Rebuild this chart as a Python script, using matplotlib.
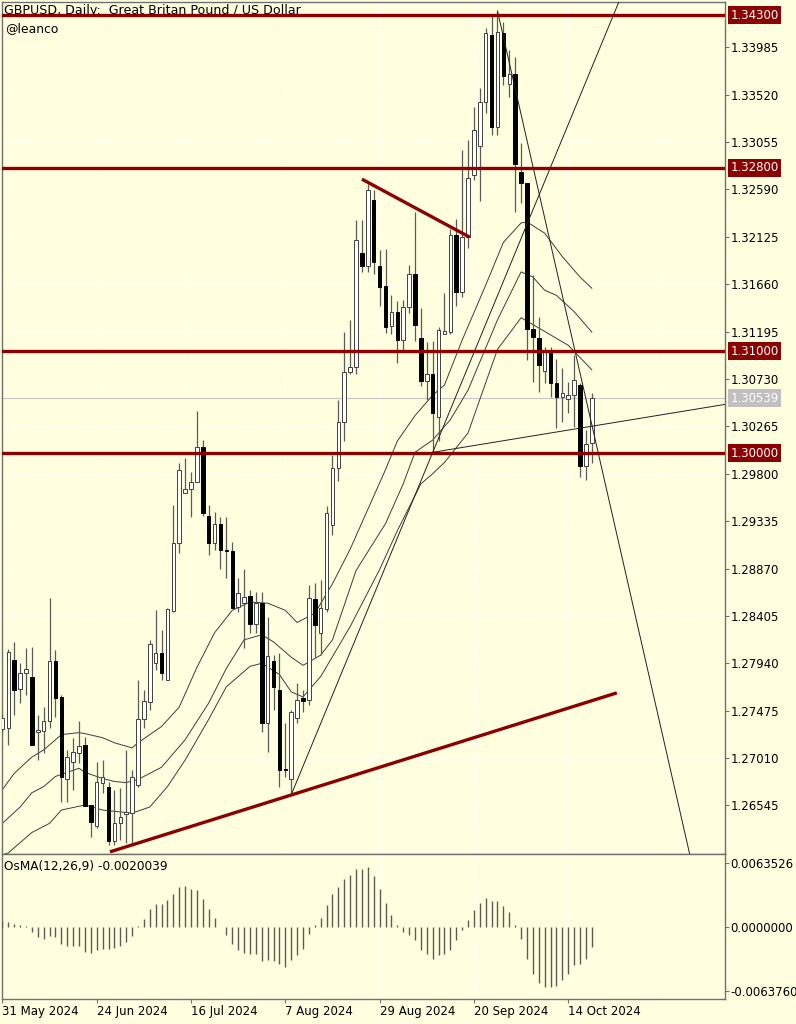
import matplotlib

matplotlib.use("Agg")
import matplotlib.pyplot as plt
import matplotlib.transforms as mtransforms

plt.rcParams["font.family"] = ["DejaVu Sans"]

BG = "#ffffe0"
RED = "#8b0000"
FRAME = "#707070"
WICK = "#5a5a5a"

# daily bars, index 0 = 31 May 2024 ... 100 = 18 Oct 2024
opens = [1.2730, 1.2731, 1.2797, 1.2769, 1.2784, 1.2781, 1.2727, 1.2728, 1.2737, 1.2796,
         1.2761, 1.2680, 1.2697, 1.2706, 1.2714, 1.2655, 1.2634, 1.2677, 1.2673, 1.2620,
         1.2637, 1.2646, 1.2647, 1.2675, 1.2739, 1.2756, 1.2794, 1.2804, 1.2778, 1.2845,
         1.2912, 1.2961, 1.2965, 1.2972, 1.3006, 1.2939, 1.2912, 1.2931, 1.2905, 1.2904,
         1.2849, 1.2853, 1.2860, 1.2833, 1.2853, 1.2735, 1.2796, 1.2768, 1.2690, 1.2680,
         1.2740, 1.2760, 1.2758, 1.2857, 1.2824, 1.2847, 1.2930, 1.2986, 1.3031, 1.3080,
         1.3085, 1.3197, 1.3184, 1.3249, 1.3184, 1.3164, 1.3125, 1.3139, 1.3111, 1.3144,
         1.3176, 1.3113, 1.3071, 1.3078, 1.3036, 1.3117, 1.3119, 1.3214, 1.3158, 1.3212,
         1.3273, 1.3302, 1.3345, 1.3410, 1.3320, 1.3412, 1.3362, 1.3372, 1.3276, 1.3265,
         1.3122, 1.3113, 1.3081, 1.3099, 1.3069, 1.3055, 1.3053, 1.3057, 1.3067, 1.2988,
         1.3010]
highs = [1.2744, 1.2808, 1.2815, 1.2794, 1.2809, 1.2810, 1.2743, 1.2751, 1.2858, 1.2807,
         1.2763, 1.2709, 1.2721, 1.2737, 1.2722, 1.2655, 1.2697, 1.2699, 1.2678, 1.2670,
         1.2672, 1.2709, 1.2689, 1.2778, 1.2768, 1.2817, 1.2846, 1.2827, 1.2848, 1.2949,
         1.2991, 1.2995, 1.2982, 1.3042, 1.3013, 1.2949, 1.2942, 1.2938, 1.2938, 1.2913,
         1.2878, 1.2887, 1.2866, 1.2864, 1.2864, 1.2839, 1.2802, 1.2804, 1.2735, 1.2748,
         1.2775, 1.2768, 1.2871, 1.2873, 1.2876, 1.2948, 1.2998, 1.3052, 1.3119, 1.3131,
         1.3229, 1.3229, 1.3264, 1.3258, 1.3199, 1.3200, 1.3155, 1.3149, 1.3150, 1.3185,
         1.3237, 1.3143, 1.3109, 1.3110, 1.3124, 1.3157, 1.3220, 1.3230, 1.3298, 1.3307,
         1.3340, 1.3358, 1.3417, 1.3430, 1.3434, 1.3423, 1.3396, 1.3389, 1.3304, 1.3265,
         1.3175, 1.3134, 1.3104, 1.3104, 1.3093, 1.3084, 1.3070, 1.3096, 1.3069, 1.3023,
         1.3059]
lows = [1.2726, 1.2714, 1.2743, 1.2755, 1.2763, 1.2714, 1.2699, 1.2706, 1.2731, 1.2741,
        1.2658, 1.2658, 1.2670, 1.2696, 1.2654, 1.2624, 1.2632, 1.2667, 1.2616, 1.2616,
        1.2621, 1.2618, 1.2618, 1.2673, 1.2731, 1.2748, 1.2787, 1.2778, 1.2778, 1.2844,
        1.2902, 1.2961, 1.2938, 1.2972, 1.2939, 1.2900, 1.2905, 1.2887, 1.2878, 1.2848,
        1.2844, 1.2809, 1.2824, 1.2824, 1.2727, 1.2707, 1.2748, 1.2673, 1.2682, 1.2665,
        1.2735, 1.2746, 1.2753, 1.2800, 1.2802, 1.2844, 1.2920, 1.2973, 1.3012, 1.3078,
        1.3078, 1.3178, 1.3178, 1.3176, 1.3145, 1.3118, 1.3117, 1.3089, 1.3101, 1.3138,
        1.3110, 1.3066, 1.3052, 1.3001, 1.3012, 1.3117, 1.3117, 1.3145, 1.3153, 1.3201,
        1.3268, 1.3248, 1.3334, 1.3312, 1.3312, 1.3361, 1.3350, 1.3237, 1.3246, 1.3092,
        1.3070, 1.3060, 1.3069, 1.3055, 1.3025, 1.3031, 1.3040, 1.3026, 1.2977, 1.2974,
        1.2991]
closes = [1.2740, 1.2805, 1.2768, 1.2784, 1.2788, 1.2714, 1.2729, 1.2737, 1.2796, 1.2760,
          1.2682, 1.2702, 1.2707, 1.2713, 1.2654, 1.2638, 1.2678, 1.2682, 1.2620, 1.2637,
          1.2643, 1.2648, 1.2682, 1.2739, 1.2757, 1.2813, 1.2804, 1.2784, 1.2847, 1.2912,
          1.2984, 1.2965, 1.2972, 1.3006, 1.2941, 1.2912, 1.2931, 1.2905, 1.2904, 1.2848,
          1.2863, 1.2859, 1.2833, 1.2853, 1.2735, 1.2801, 1.2771, 1.2689, 1.2689, 1.2746,
          1.2758, 1.2757, 1.2858, 1.2832, 1.2848, 1.2941, 1.2986, 1.3031, 1.3080, 1.3085,
          1.3209, 1.3184, 1.3258, 1.3188, 1.3163, 1.3124, 1.3139, 1.3111, 1.3144, 1.3176,
          1.3126, 1.3071, 1.3078, 1.3040, 1.3121, 1.3120, 1.3214, 1.3158, 1.3212, 1.3270,
          1.3317, 1.3345, 1.3412, 1.3320, 1.3413, 1.3370, 1.3372, 1.3284, 1.3265, 1.3122,
          1.3114, 1.3087, 1.3099, 1.3069, 1.3055, 1.3059, 1.3057, 1.3072, 1.2988, 1.3009,
          1.30539]

osma = [0.0006, 0.0005, 0.0003, 0.0002, 0.0001, -0.0005, -0.0010, -0.0012, -0.0009, -0.0010,
        -0.0017, -0.0019, -0.0019, -0.0019, -0.0025, -0.0026, -0.0023, -0.0022, -0.0022, -0.0021,
        -0.0019, -0.0015, -0.0009, 0.0001, 0.0008, 0.0018, 0.0023, 0.0023, 0.0027, 0.0033,
        0.0040, 0.0041, 0.0038, 0.0037, 0.0028, 0.0018, 0.0009, 0.0000, -0.0008, -0.0017,
        -0.0023, -0.0026, -0.0027, -0.0027, -0.0034, -0.0033, -0.0034, -0.0037, -0.0040, -0.0033,
        -0.0028, -0.0022, -0.0007, 0.0002, 0.0009, 0.0022, 0.0033, 0.0040, 0.0048, 0.0052,
        0.0058, 0.0058, 0.0060, 0.0051, 0.0038, 0.0024, 0.0012, 0.0002, -0.0005, -0.0008,
        -0.0013, -0.0023, -0.0027, -0.0032, -0.0028, -0.0027, -0.0023, -0.0013, -0.0003, 0.0007,
        0.0017, 0.0024, 0.0029, 0.0026, 0.0026, 0.0021, 0.0015, 0.0002, -0.0012, -0.0032,
        -0.0047, -0.0056, -0.0060, -0.0060, -0.0059, -0.0053, -0.0047, -0.0038, -0.0037, -0.0032,
        -0.0020039]

# moving-average band lines (bar index, price)
upper_x = [0, 2, 5, 7, 9, 10, 13, 14, 17, 19, 22, 23, 27, 30, 33, 36, 39, 42, 45, 48,
           50, 53, 56, 59, 62, 65, 67, 70, 73, 75, 78, 82, 85, 88, 89, 92, 95, 98, 100]
upper_y = [1.2670, 1.2686, 1.2702, 1.2709, 1.2719, 1.2724, 1.2726, 1.2725, 1.2721, 1.2716,
           1.2711, 1.2716, 1.2732, 1.2751, 1.2790, 1.2824, 1.2846, 1.2854, 1.2853, 1.2846,
           1.2834, 1.2843, 1.2872, 1.2906, 1.2945, 1.2984, 1.3012, 1.3037, 1.3057, 1.3067,
           1.3111, 1.3165, 1.3207, 1.3226, 1.3227, 1.3216, 1.3193, 1.3173, 1.3162]
mid_x = [0, 3, 5, 7, 9, 13, 14, 17, 19, 21, 23, 27, 31, 35, 38, 41, 44, 46, 49, 51,
         54, 56, 60, 65, 68, 70, 73, 76, 79, 84, 88, 90, 92, 94, 97, 100]
mid_y = [1.2637, 1.2653, 1.2667, 1.2673, 1.2683, 1.2691, 1.2687, 1.2681, 1.2678, 1.2677,
         1.2680, 1.2692, 1.2719, 1.2755, 1.2789, 1.2817, 1.2822, 1.2815, 1.2800, 1.2792,
         1.2802, 1.2817, 1.2885, 1.2931, 1.2970, 1.3001, 1.3013, 1.3033, 1.3062, 1.3131,
         1.3178, 1.3173, 1.3160, 1.3155, 1.3139, 1.3119]
lower_x = [0, 1, 3, 5, 8, 10, 14, 17, 22, 25, 28, 31, 35, 38, 42, 44, 47, 49, 51, 54,
           59, 64, 67, 71, 73, 75, 79, 84, 88, 91, 96, 100]
lower_y = [1.2606, 1.2608, 1.2618, 1.2628, 1.2637, 1.2650, 1.2655, 1.2650, 1.2647, 1.2653,
           1.2673, 1.2699, 1.2739, 1.2771, 1.2791, 1.2794, 1.2783, 1.2766, 1.2761, 1.2781,
           1.2830, 1.2886, 1.2924, 1.2970, 1.2980, 1.2991, 1.3020, 1.3102, 1.3133, 1.3123,
           1.3106, 1.3082]

# drawn objects: horizontal levels, red trend lines, thin black lines
levels = [1.34300, 1.32800, 1.31000, 1.30000]
red_trends = [((18.25, 1.2609), (104.25, 1.2765)),
              ((61.0, 1.3269), (79.3, 1.3212))]
black_lines = [((49, 1.2665), (104.6, 1.3443)),
               ((84, 1.3434), (116.6, 1.2607)),
               ((73, 1.3001), (122.6, 1.3048))]

price_ticks = [1.26545, 1.27010, 1.27475, 1.27940, 1.28405, 1.28870, 1.29335, 1.29800,
               1.30265, 1.30730, 1.31195, 1.31660, 1.32125, 1.32590, 1.33055, 1.33520, 1.33985]
osma_ticks = [0.0063526, 0.0, -0.0063760]
date_pos = [0, 16, 32, 48, 64, 80, 96]
date_labels = ["31 May 2024", "24 Jun 2024", "16 Jul 2024", "7 Aug 2024",
               "29 Aug 2024", "20 Sep 2024", "14 Oct 2024"]
grid_dates = [0, 16, 32, 48, 64, 80, 96, 112]

W, H = 796, 1024
fig = plt.figure(figsize=(W / 100, H / 100), dpi=100, facecolor=BG)

x0, x1 = 2, 725
ax = fig.add_axes([x0 / W, 1 - 854 / H, (x1 - x0) / W, (854 - 2) / H], facecolor=BG)
ax2 = fig.add_axes([x0 / W, 1 - 999 / H, (x1 - x0) / W, (999 - 854) / H], facecolor=BG)

xlim = (-0.07, 122.6)
for a in (ax, ax2):
    a.set_xlim(*xlim)
    for s in a.spines.values():
        s.set_color(FRAME)
        s.set_linewidth(1.0)
    a.yaxis.tick_right()
    a.tick_params(axis="y", direction="out", length=3, width=0.8, color=FRAME,
                  pad=1, labelsize=8.5, labelcolor="black")
    for g in grid_dates:
        a.axvline(g, color="white", lw=0.8, ls=(0, (2, 2)), zorder=0)

ax.set_ylim(1.26069, 1.34428)
ax2.set_ylim(-0.00721, 0.00725)

# price grid + labels
ax.set_yticks(price_ticks)
ax.set_yticklabels([f"{p:.5f}" for p in price_ticks])
for p in price_ticks:
    ax.axhline(p, color="white", lw=0.8, ls=(0, (2, 2)), zorder=0)
ax.set_xticks([])

# moving-average band lines
ax.plot(upper_x, upper_y, color="#3c3c3c", lw=0.7, zorder=2)
ax.plot(mid_x, mid_y, color="#3c3c3c", lw=0.7, zorder=2)
ax.plot(lower_x, lower_y, color="#3c3c3c", lw=0.7, zorder=2)

# candles
idx = list(range(len(opens)))
ax.vlines(idx, lows, highs, color=WICK, lw=0.9, zorder=3)
up = [i for i in idx if closes[i] >= opens[i]]
dn = [i for i in idx if closes[i] < opens[i]]
min_h = 0.00004
ax.bar(up, [max(closes[i] - opens[i], min_h) for i in up], bottom=[opens[i] for i in up],
       width=0.6, color="white", edgecolor="#404040", linewidth=0.7, zorder=4)
ax.bar(dn, [max(opens[i] - closes[i], min_h) for i in dn], bottom=[closes[i] for i in dn],
       width=0.6, color="black", edgecolor="black", linewidth=0.7, zorder=4)

# current price line
last = closes[-1]
ax.axhline(last, color="#c8c8c8", lw=0.9, zorder=1)

# thin black drawn lines
for (xa, ya), (xb, yb) in black_lines:
    ax.plot([xa, xb], [ya, yb], color="#202020", lw=0.7, zorder=5)

# red drawn lines
for lv in levels:
    ax.axhline(lv, color=RED, lw=2.4, zorder=6)
for (xa, ya), (xb, yb) in red_trends:
    ax.plot([xa, xb], [ya, yb], color=RED, lw=2.4, zorder=6, solid_capstyle="butt")

# right-hand boxed labels
trans = mtransforms.blended_transform_factory(ax.transAxes, ax.transData)
for lv in levels:
    ax.text(1.0075, lv, f"{lv:.5f}", transform=trans, ha="left", va="center",
            fontsize=8.5, color="white", zorder=10,
            bbox=dict(boxstyle="square,pad=0.22", fc=RED, ec="none"))
ax.text(1.0075, last, f"{last:.5f}", transform=trans, ha="left", va="center",
        fontsize=8.5, color="white", zorder=10,
        bbox=dict(boxstyle="square,pad=0.22", fc="#c0c0c0", ec="none"))

# header text
ax.text(0.003, 0.9905, "GBPUSD, Daily:  Great Britan Pound / US Dollar", transform=ax.transAxes,
        ha="left", va="center", fontsize=9.1, color="black", zorder=1)
ax.text(0.004, 0.9685, "@leanco", transform=ax.transAxes,
        ha="left", va="center", fontsize=8.9, color="black", zorder=1)

# OsMA panel
ax2.vlines(idx, 0, osma, color="#5c5c54", lw=1.0, zorder=3)
ax2.set_yticks(osma_ticks)
ax2.set_yticklabels([f"{v:.7f}" for v in osma_ticks])
ax2.set_xticks(date_pos)
ax2.set_xticklabels(date_labels)
ax2.tick_params(axis="x", direction="out", length=3, width=0.8, color=FRAME,
                pad=1, labelsize=8.5)
for lab in ax2.get_xticklabels():
    lab.set_horizontalalignment("left")
ax2.text(0.003, 0.915, f"OsMA(12,26,9) {osma[-1]:.7f}", transform=ax2.transAxes,
         ha="left", va="center", fontsize=8.7, color="black")

fig.savefig("out.png", dpi=100, facecolor=BG)
